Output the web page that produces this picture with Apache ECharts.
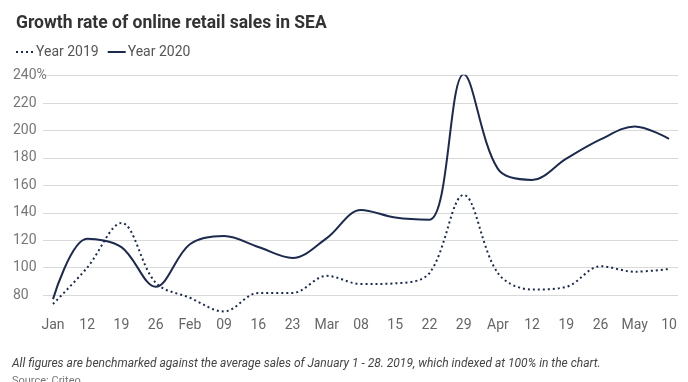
<!DOCTYPE html>
<html>
<head>
<meta charset="utf-8">
<script src="https://cdn.jsdelivr.net/npm/echarts@6/dist/echarts.min.js"></script>
<style>
  html, body { margin: 0; padding: 0; background: #fff; }
  #chart { width: 688px; height: 382px; }
</style>
</head>
<body>
<div id="chart"></div>
<script>
const categories = ['Jan', '12', '19', '26', 'Feb', '09', '16', '23', 'Mar', '08', '15', '22', '29', 'Apr', '12', '19', '26', 'May', '10'];
const year2019 = [73.5, 100, 132.5, 89, 78, 68, 81.5, 81.5, 94, 88, 88.5, 96, 153, 96, 84, 86, 101, 97, 99];
const year2020 = [77, 121, 115, 86, 117, 123, 115, 107, 121.5, 142, 136.5, 135, 241, 172, 164, 179.5, 193.5, 203, 194];
const yTicks = [80, 100, 120, 140, 160, 180, 200, 220, 240];

const idx = categories.map((_, i) => i);
const lower = year2019.map((v, i) => Math.min(v, year2020[i]));
const band = year2019.map((v, i) => Math.abs(v - year2020[i]));

const NAVY = '#1b2a4e';
const SMOOTH = 0.35;
const chart = echarts.init(document.getElementById('chart'));
chart.setOption({
  animation: false,
  textStyle: { fontFamily: 'Roboto' },
  title: {
    text: 'Growth rate of online retail sales in SEA',
    left: 11, top: 10,
    textStyle: { fontSize: 17.5, fontWeight: 'bold', color: '#333', fontFamily: 'Roboto' }
  },
  legend: {
    data: ['Year 2019', 'Year 2020'],
    left: 10, top: 40,
    itemWidth: 18, itemHeight: 10, itemGap: 8,
    itemStyle: { opacity: 0 },
    textStyle: { fontSize: 14, color: '#555', padding: [0, 0, 0, -3] }
  },
  grid: { left: 43, right: 10, top: 75.7, bottom: 382 - 315.6, containLabel: false },
  xAxis: {
    type: 'value', min: -0.292, max: 18.263,
    axisLine: { show: false }, axisTick: { show: false, customValues: idx },
    splitLine: { show: false },
    axisLabel: {
      customValues: idx, margin: 3,
      formatter: v => categories[Math.round(v)],
      fontSize: 14, color: '#666'
    }
  },
  yAxis: {
    type: 'value', min: 65, max: 240,
    axisLine: { show: false },
    axisTick: { show: false, customValues: yTicks },
    splitLine: { show: true, lineStyle: { color: '#d9d9d9', width: 1 } },
    axisLabel: {
      customValues: yTicks, align: 'left', margin: 30,
      formatter: v => v === 240 ? '240%' : String(v),
      fontSize: 14, color: '#777'
    }
  },
  series: [
    {
      name: 'lower', type: 'line', stack: 'band', silent: true, z: 1,
      data: idx.map(i => [i, lower[i]]), smooth: SMOOTH,
      symbol: 'none', lineStyle: { opacity: 0 }
    },
    {
      name: 'band', type: 'line', stack: 'band', silent: true, z: 1,
      data: idx.map(i => [i, band[i]]), smooth: SMOOTH,
      symbol: 'none', lineStyle: { opacity: 0 },
      areaStyle: { color: '#f2f4f7', opacity: 1 }
    },
    {
      name: 'Year 2019', type: 'line', z: 3,
      data: idx.map(i => [i, year2019[i]]), smooth: SMOOTH,
      symbol: 'none', color: NAVY,
      lineStyle: { color: NAVY, width: 2, type: [2, 3], cap: 'butt' }
    },
    {
      name: 'Year 2020', type: 'line', z: 3,
      data: idx.map(i => [i, year2020[i]]), smooth: SMOOTH,
      symbol: 'none', color: NAVY,
      lineStyle: { color: NAVY, width: 2 }
    }
  ],
  graphic: [
    {
      type: 'text', left: 12, top: 358,
      style: {
        text: 'All figures are benchmarked against the average sales of January 1 - 28. 2019, which indexed at 100% in the chart.',
        font: 'italic 12px Roboto', fill: '#444'
      }
    },
    {
      type: 'text', left: 12, top: 376,
      style: { text: 'Source: Criteo', font: '11px Roboto', fill: '#777' }
    }
  ]
});
</script>
</body>
</html>
